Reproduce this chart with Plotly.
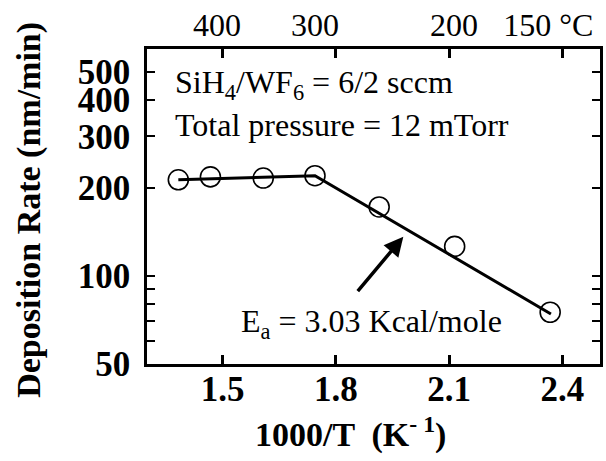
import numpy as np
import plotly.graph_objects as go

# ---- data ----
inv_T = [1.383, 1.468, 1.608, 1.745, 1.915, 2.115, 2.368]      # 1000/T (K^-1)
rate = [213, 218, 216, 220, 172, 126, 75]                         # nm/min
fit_x = [1.383, 1.745, 2.370]
fit_y = [213, 220, 74]

x_ticks = [1.5, 1.8, 2.1, 2.4]
x_ticktext = ["1.5", "1.8", "2.1", "2.4"]
y_ticks = [50, 60, 70, 80, 90, 100, 200, 300, 400, 500]
y_ticktext = ["50", "", "", "", "", "100", "200", "300", "400", "500"]
temps_C = [400, 300, 200, 150]
temps_text = ["400", "300", "200", "150 °C"]
temps_pos = [1000.0 / (t + 273.15) for t in temps_C]

SERIF = "Liberation Serif, Times New Roman, serif"
TICKF = dict(family=SERIF, size=35, color="black", weight="bold")
TITLEF = dict(family=SERIF, size=34, color="black", weight="bold")
NORMAL = dict(family=SERIF, size=32, color="black")

fig = go.Figure()
fig.add_trace(go.Scatter(x=fit_x, y=fit_y, mode="lines",
                         line=dict(color="black", width=3), showlegend=False,
                         hoverinfo="skip"))
fig.add_trace(go.Scatter(x=inv_T, y=rate, mode="markers",
                         marker=dict(symbol="circle-open", size=20, color="black",
                                     line=dict(width=1.6, color="black")),
                         showlegend=False))
# invisible trace to anchor the top (temperature) axis
fig.add_trace(go.Scatter(x=inv_T, y=rate, mode="markers", xaxis="x2",
                         marker=dict(opacity=0), showlegend=False, hoverinfo="skip"))

xr = [1.3, 2.5]
fig.update_layout(
    width=606, height=461,
    margin=dict(l=147, r=3, t=49, b=97, pad=0),
    paper_bgcolor="white", plot_bgcolor="white",
    xaxis=dict(range=xr, tickvals=x_ticks, ticktext=x_ticktext,
               showline=True, linecolor="black", linewidth=2.5, mirror="ticks",
               ticks="inside", ticklen=9, tickwidth=2.5, tickcolor="black",
               showgrid=False, zeroline=False, tickfont=TICKF,
               ticklabelstandoff=-8),
    xaxis2=dict(range=xr, overlaying="x", side="top", tickvals=temps_pos,
                ticktext=temps_text, ticks="", showline=False, showgrid=False,
                zeroline=False, tickfont=NORMAL, ticklabelstandoff=6),
    yaxis=dict(type="log", range=[1.698, 2.776], tickvals=y_ticks,
               ticktext=y_ticktext, showline=True, linecolor="black",
               linewidth=2.5, mirror="ticks", ticks="inside", ticklen=8,
               tickwidth=2.2, tickcolor="black", showgrid=False, zeroline=False,
               tickfont=TICKF, ticklabelstandoff=7),
)

# axis titles
fig.add_annotation(text="1000/T  (K<sup>- 1</sup>)", xref="paper", yref="paper",
                   x=(352 - 147) / 456, y=-(432 - 364) / 315,
                   xanchor="center", yanchor="middle", showarrow=False, font=TITLEF)
fig.add_annotation(text="Deposition Rate (nm/min)", xref="paper", yref="paper",
                   x=(28 - 147) / 456, y=(364 - 210) / 315, textangle=-90,
                   xanchor="center", yanchor="middle", showarrow=False, font=TITLEF)

# in-plot text
fig.add_annotation(text="SiH<sub>4</sub>/WF<sub>6</sub> = 6/2 sccm", xref="paper", yref="paper",
                   x=(173 - 147) / 456, y=(364 - 84) / 315, xanchor="left", yanchor="middle",
                   showarrow=False, font=NORMAL)
fig.add_annotation(text="Total pressure = 12 mTorr", xref="paper", yref="paper",
                   x=(173 - 147) / 456, y=(364 - 125) / 315, xanchor="left", yanchor="middle",
                   showarrow=False, font=NORMAL)
fig.add_annotation(text="E<sub>a</sub> = 3.03 Kcal/mole", xref="paper", yref="paper",
                   x=(240 - 147) / 456, y=(364 - 323) / 315, xanchor="left", yanchor="middle",
                   showarrow=False, font=NORMAL)
# arrow
fig.add_annotation(x=1.979, y=np.log10(136), ax=1.855, ay=np.log10(87.5),
                   xref="x", yref="y", axref="x", ayref="y", text="",
                   showarrow=True, arrowhead=2, arrowsize=1.1, arrowwidth=3.5,
                   arrowcolor="black")

fig.write_html("out.html")
